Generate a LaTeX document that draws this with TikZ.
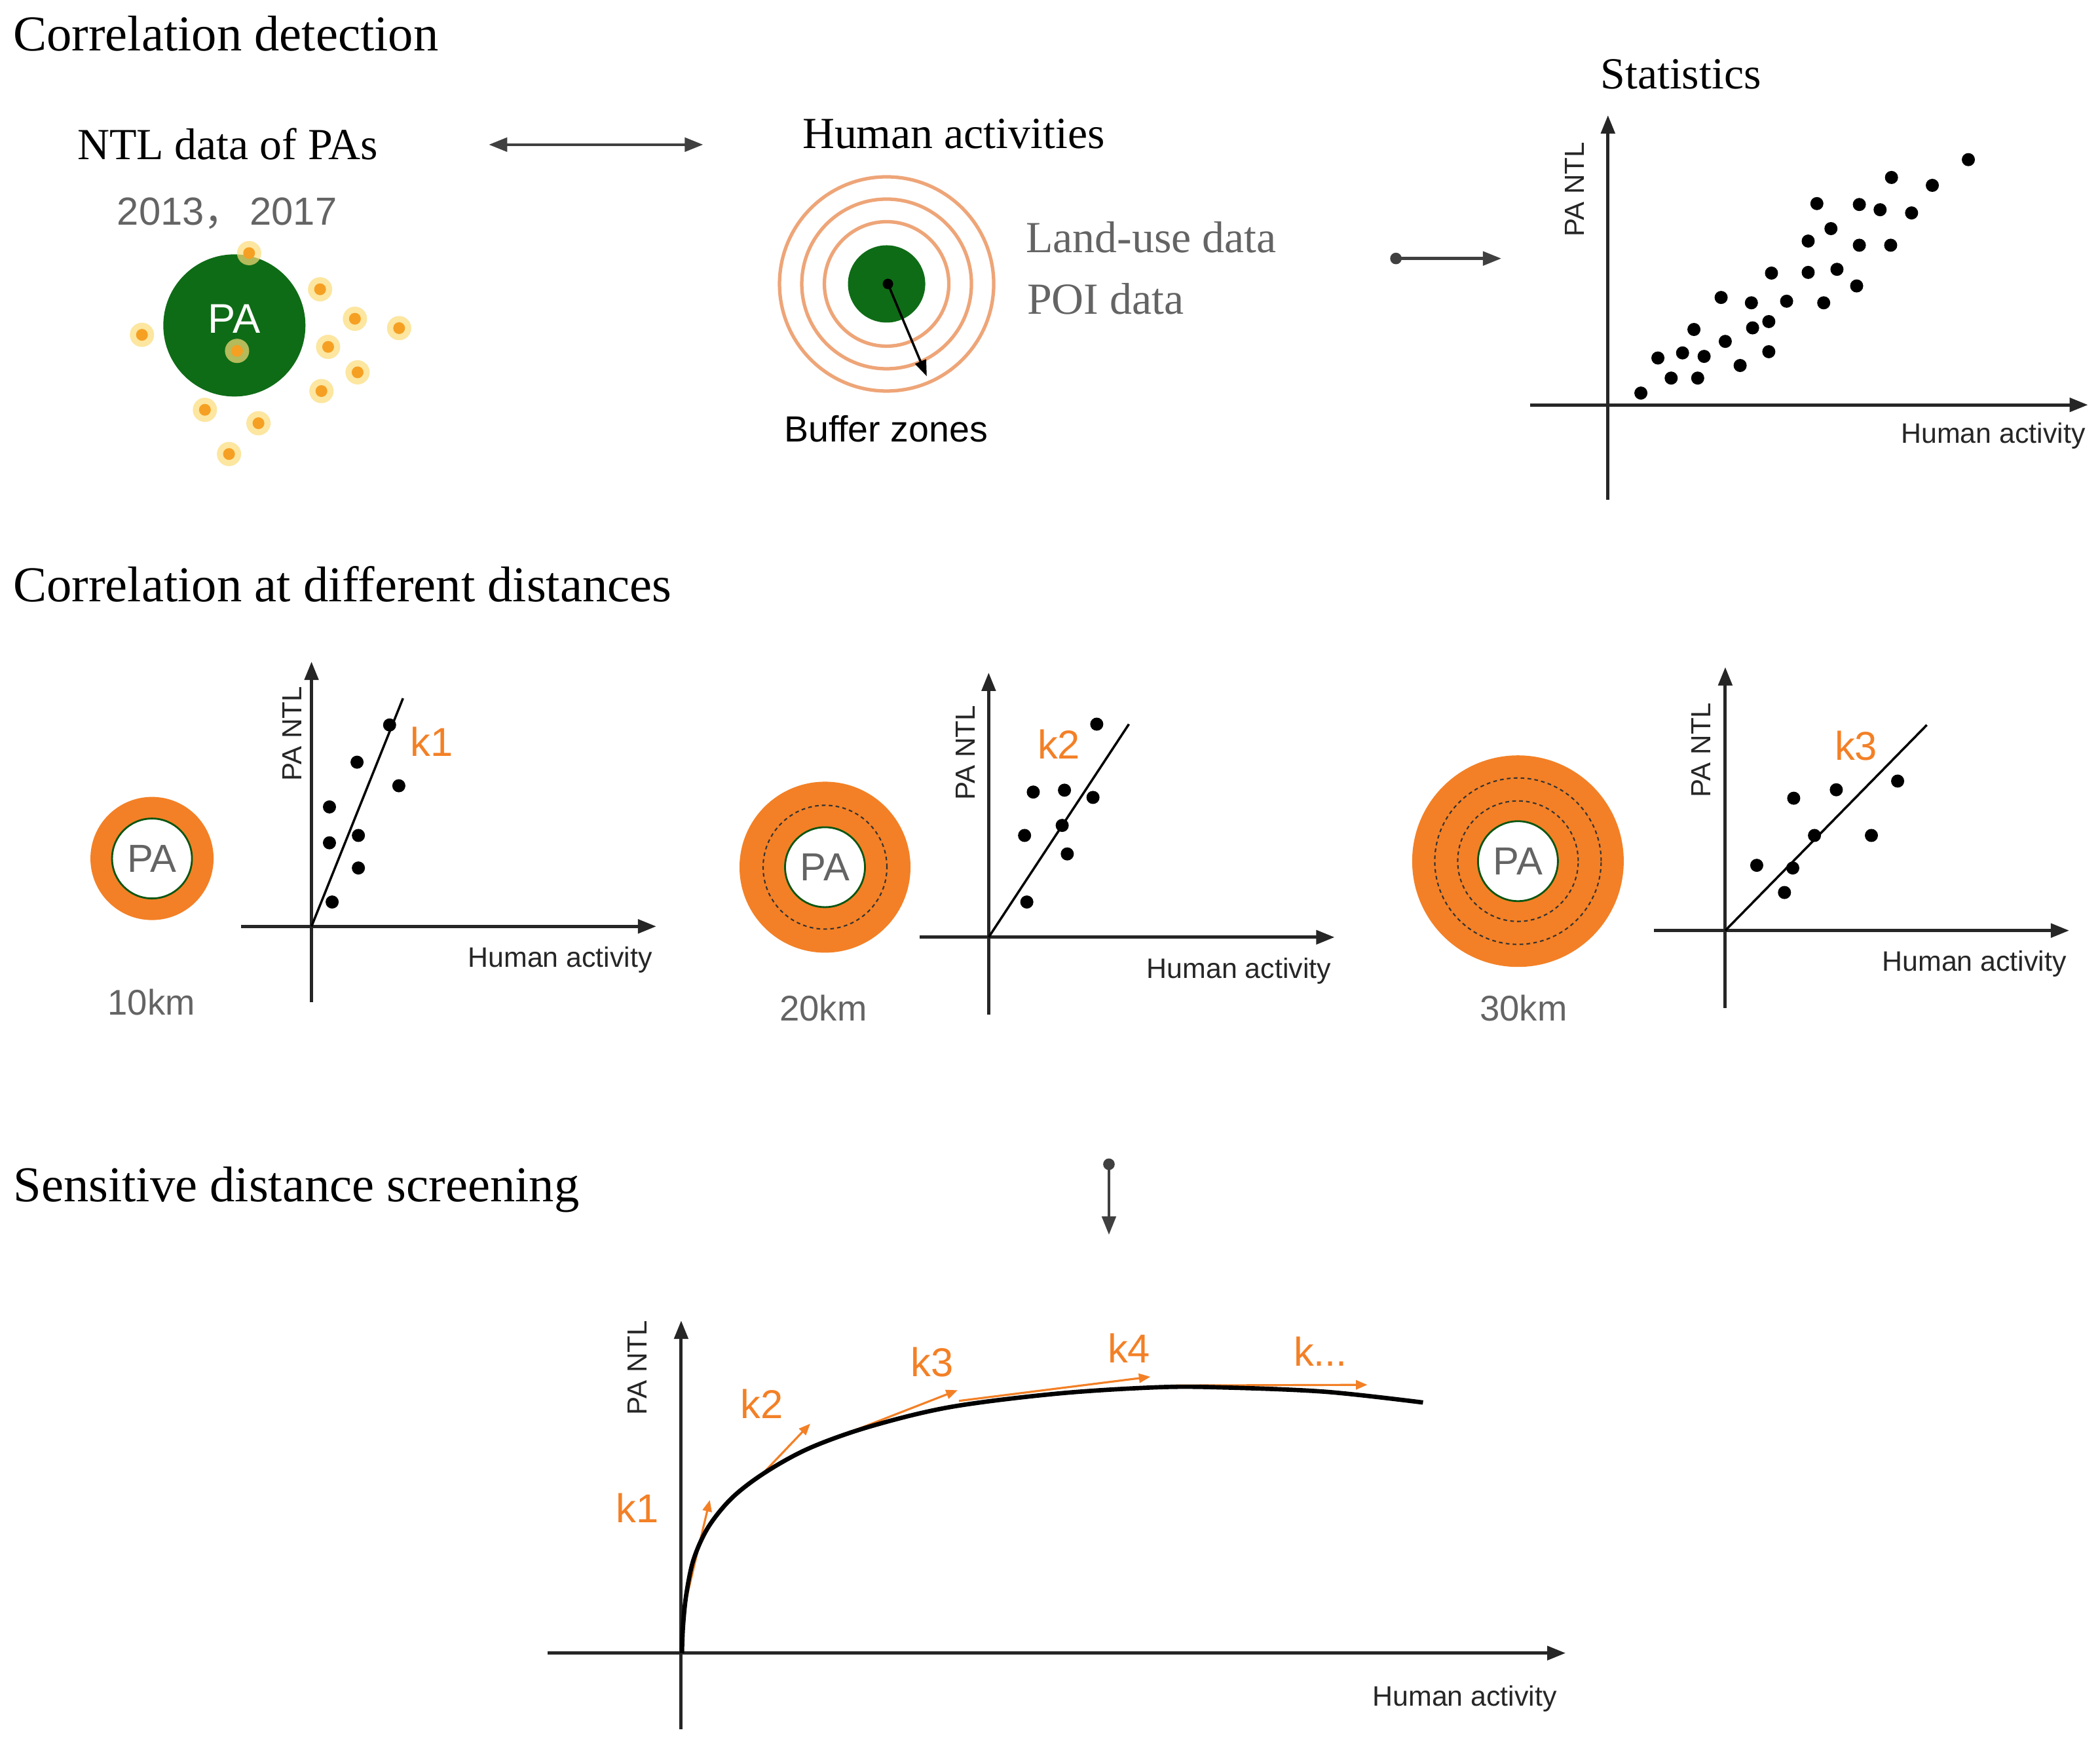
\documentclass[tikz,border=0pt]{standalone}
\usepackage{fontspec}
\setmainfont{Liberation Serif}
\setsansfont{Liberation Sans}
\newfontfamily\cjkfont{Noto Sans CJK SC}
\usetikzlibrary{arrows.meta}
\definecolor{pagreen}{RGB}{14,108,22}
\definecolor{paorange}{RGB}{243,128,38}
\definecolor{ringline}{RGB}{238,165,120}
\definecolor{txtgrey}{RGB}{100,100,100}
\definecolor{dotcore}{RGB}{245,160,35}
\definecolor{dothalo}{RGB}{252,220,120}
\tikzset{
  every node/.style={inner sep=0pt, outer sep=0pt},
  heading/.style={font=\fontsize{21.8}{24}\selectfont, anchor=base west},
  subhead/.style={font=\fontsize{19.3}{22}\selectfont, anchor=base},
  greyserif/.style={font=\fontsize{19.3}{22}\selectfont, anchor=base west, text=txtgrey},
  axislabel/.style={font=\sffamily\fontsize{12.2}{14}\selectfont, text=black!85, anchor=base east},
  ylabel/.style={font=\sffamily\fontsize{12}{14}\selectfont, text=black!85, rotate=90},
  kmlabel/.style={font=\sffamily\fontsize{15.5}{18}\selectfont, text=txtgrey},
  klabel/.style={font=\sffamily\fontsize{17.5}{20}\selectfont, text=paorange},
  pagrey/.style={font=\sffamily\fontsize{17}{20}\selectfont, text=txtgrey},
  axisarrow/.style={line width=1.4pt, draw=black!85, -{Triangle[length=8pt,width=6pt]}},
  fitline/.style={line width=1pt, draw=black},
  sdot/.style={circle, fill=black, minimum size=2mm},
  ringdash/.style={draw=black!80, line width=0.6pt, dash pattern=on 1.6pt off 1.4pt},
  tangent/.style={draw=paorange, line width=0.9pt, -{Triangle[length=5pt,width=4pt]}},
  flowarrow/.style={line width=1.3pt, draw=black!75},
}
\begin{document}
\begin{tikzpicture}[x=0.020446cm, y=-0.020446cm]
\useasboundingbox[fill=white] (0,0) rectangle (1568,1301);

% ---------------- headings
\node[heading] (h1) at (10,38) {Correlation detection};
\node[heading] (h2) at (10,449) {Correlation at different distances};
\node[heading] (h3) at (10,897) {Sensitive distance screening};

% ---------------- NTL data of PAs
\node[subhead] (ntl) at (170,119.2) {NTL data of PAs};
\node[font=\sffamily\fontsize{17}{20}\selectfont, text=txtgrey, anchor=base] (years) at (169.5,167.9) {2013{\cjkfont ，}\,2017};
\node[circle, fill=pagreen, minimum size=2.17cm] (pa0) at (175,243) {};
\node[font=\sffamily\fontsize{18}{20}\selectfont, text=white] (pa0t) at (175,238) {PA};
\foreach \x/\y [count=\i] in {186/189, 239/216, 265/238, 298/245, 106/250, 177/262, 245/259, 267/278, 240/292, 153/306, 193/316, 171/339}{
  \node[circle, fill=dothalo, opacity=0.7, minimum size=0.37cm] (halo\i) at (\x,\y) {};
  \node[circle, fill=dotcore, minimum size=0.18cm] (light\i) at (\x,\y) {};
}

% double arrow
\coordinate (da1) at (365,108);
\coordinate (da2) at (525,108);
\draw[flowarrow, {Triangle[length=8pt,width=6pt]}-{Triangle[length=8pt,width=6pt]}] (da1) -- (da2);

% ---------------- Human activities
\node[subhead] (hum) at (712,110.8) {Human activities};
\node[circle, draw=ringline, line width=1.5pt, minimum size=3.27cm] (r3) at (662,212) {};
\node[circle, draw=ringline, line width=1.5pt, minimum size=2.59cm] (r2) at (662,212) {};
\node[circle, draw=ringline, line width=1.5pt, minimum size=1.9cm] (r1) at (662,212) {};
\node[circle, fill=pagreen, minimum size=1.18cm] (pa1) at (662,212) {};
\node[circle, fill=black, minimum size=1.6mm] (pac) at (663,212) {};
\coordinate (bz) at (692,281);
\draw[line width=1pt, -{Triangle[length=7pt,width=5pt]}] (pac.center) -- (bz);
\node[greyserif] (land) at (766,188.5) {Land-use data};
\node[greyserif] (poi) at (767,234.3) {POI data};
\node[font=\sffamily\fontsize{15.8}{18}\selectfont, anchor=base] (buf) at (661.5,329.8) {Buffer zones};

% arrow to statistics
\coordinate (ar1) at (1038,193);
\coordinate (ar2) at (1121,193);
\draw[flowarrow, {Circle[length=5pt]}-{Triangle[length=8pt,width=6pt]}] (ar1) -- (ar2);

% ---------------- Statistics
\node[subhead] (stat) at (1255,66.5) {Statistics};
\coordinate (sy0) at (1200.6,373);
\coordinate (sy1) at (1200.6,86);
\coordinate (sx0) at (1142.4,302.3);
\coordinate (sx1) at (1559,302.3);
\draw[axisarrow] (sy0) -- (sy1);
\draw[axisarrow] (sx0) -- (sx1);
\node[ylabel] (sylab) at (1175.8,141.4) {PA NTL};
\node[axislabel] (sxlab) at (1557,330.9) {Human activity};
\foreach \x/\y [count=\i] in {1469.7/119.2, 1412.3/132.5, 1442.8/138.4, 1356.6/152.0, 1388.3/152.7, 1403.8/156.6, 1427.3/159.0, 1367.1/170.7, 1350.1/180.0, 1388.3/183.1, 1411.7/183.1, 1322.7/203.9, 1350.1/203.4, 1371.6/201.1, 1386.3/213.5, 1285.1/222.1, 1307.7/226.1, 1334.0/224.9, 1361.7/226.1, 1320.7/240.1, 1264.8/246.0, 1308.6/244.8, 1288.2/254.9, 1237.9/267.3, 1256.3/263.5, 1272.4/266.1, 1320.7/262.6, 1299.3/272.9, 1247.8/282.3, 1267.6/282.3, 1225.2/293.5}{
  \node[sdot] (st\i) at (\x,\y) {};
}

% ---------------- Panel 1 (10 km)
\node[circle, fill=paorange, minimum size=1.88cm] (o1) at (113.5,641) {};
\node[circle, fill=white, draw=pagreen!80!black, line width=0.8pt, minimum size=1.22cm] (w1) at (113.5,641) {};
\node[pagrey] (p1) at (113.5,641) {PA};
\node[kmlabel] (km1) at (113,748.5) {10km};
\coordinate (o1a) at (232.6,691.7);
\coordinate (p1y0) at (232.6,748.5);
\coordinate (p1y1) at (232.6,494);
\coordinate (p1x0) at (180,691.7);
\coordinate (p1x1) at (490,691.7);
\draw[axisarrow] (p1y0) -- (p1y1);
\draw[axisarrow] (p1x0) -- (p1x1);
\coordinate (f1) at (300.9,521.4);
\draw[fitline] (o1a) -- (f1);
\node[ylabel] (p1yl) at (217.9,547.8) {PA NTL};
\node[axislabel] (p1xl) at (487,722.1) {Human activity};
\node[klabel] (k1a) at (322.5,553.8) {k1};
\foreach \x/\y [count=\i] in {290.9/541.3, 266.6/569.1, 297.8/586.7, 246/602.5, 246/629.3, 267.6/623.8, 267.6/648.1, 248/673.5}{
  \node[sdot] (pa\i) at (\x,\y) {};
}

% ---------------- Panel 2 (20 km)
\node[circle, fill=paorange, minimum size=2.61cm] (o2) at (616,647.5) {};
\node[circle, ringdash, minimum size=1.89cm] (d2a) at (616,647.5) {};
\node[circle, fill=white, draw=pagreen!80!black, line width=0.8pt, minimum size=1.22cm] (w2) at (616,647.5) {};
\node[pagrey] (p2) at (616,647.5) {PA};
\node[kmlabel] (km2) at (614.7,752.5) {20km};
\coordinate (o2a) at (738.2,699.8);
\coordinate (p2y0) at (738.2,757.6);
\coordinate (p2y1) at (738.2,502.2);
\coordinate (p2x0) at (686.8,699.8);
\coordinate (p2x1) at (996.5,699.8);
\draw[axisarrow] (p2y0) -- (p2y1);
\draw[axisarrow] (p2x0) -- (p2x1);
\coordinate (f2) at (842.9,540.7);
\draw[fitline] (o2a) -- (f2);
\node[ylabel] (p2yl) at (721.1,562) {PA NTL};
\node[axislabel] (p2xl) at (993.8,730.2) {Human activity};
\node[klabel] (k2a) at (790.7,555.9) {k2};
\foreach \x/\y [count=\i] in {818.9/540.7, 771.5/591.4, 794.8/590, 816.1/595.4, 793.1/616.3, 765/623.8, 796.9/637.6, 766.7/673.5}{
  \node[sdot] (pb\i) at (\x,\y) {};
}

% ---------------- Panel 3 (30 km)
\node[circle, fill=paorange, minimum size=3.23cm] (o3) at (1133.4,643) {};
\node[circle, ringdash, minimum size=2.54cm] (d3b) at (1133.4,643) {};
\node[circle, ringdash, minimum size=1.84cm] (d3a) at (1133.4,643) {};
\node[circle, fill=white, draw=pagreen!80!black, line width=0.8pt, minimum size=1.22cm] (w3) at (1133.4,643) {};
\node[pagrey] (p3) at (1133.4,643) {PA};
\node[kmlabel] (km3) at (1137.5,752.5) {30km};
\coordinate (o3a) at (1288.2,694.8);
\coordinate (p3y0) at (1288.2,752.5);
\coordinate (p3y1) at (1288.2,498.1);
\coordinate (p3x0) at (1235.1,694.8);
\coordinate (p3x1) at (1545,694.8);
\draw[axisarrow] (p3y0) -- (p3y1);
\draw[axisarrow] (p3x0) -- (p3x1);
\coordinate (f3) at (1438.7,541.3);
\draw[fitline] (o3a) -- (f3);
\node[ylabel] (p3yl) at (1270.3,559.9) {PA NTL};
\node[axislabel] (p3xl) at (1542.9,725.2) {Human activity};
\node[klabel] (k3a) at (1385.9,556.9) {k3};
\foreach \x/\y [count=\i] in {1339.3/596, 1371.1/589.7, 1416.9/583.2, 1354.8/623.8, 1397.3/623.8, 1311.7/646.1, 1338.6/648.1, 1332.4/666.4}{
  \node[sdot] (pc\i) at (\x,\y) {};
}

% vertical arrow
\coordinate (va1) at (828,865);
\coordinate (va2) at (828,922);
\draw[flowarrow, {Circle[length=5pt]}-{Triangle[length=8pt,width=6pt]}] (va1) -- (va2);

% ---------------- Bottom plot
\coordinate (by0) at (508.6,1291);
\coordinate (by1) at (508.6,986);
\coordinate (bx0) at (408.8,1234.3);
\coordinate (bx1) at (1169,1234.3);
\draw[axisarrow] (by0) -- (by1);
\draw[axisarrow] (bx0) -- (bx1);
\node[ylabel] (bylab) at (476.1,1021.4) {PA NTL};
\node[axislabel] (bxlab) at (1162.4,1273.6) {Human activity};
\coordinate (t1a) at (511,1200); \coordinate (t1b) at (530,1120);
\coordinate (t2a) at (566,1104); \coordinate (t2b) at (605,1063);
\coordinate (t3a) at (615,1077); \coordinate (t3b) at (715,1038);
\coordinate (t4a) at (716,1046); \coordinate (t4b) at (859,1028);
\coordinate (t5a) at (878,1034.5); \coordinate (t5b) at (1021,1034);
\draw[tangent] (t1a) -- (t1b);
\draw[tangent] (t2a) -- (t2b);
\draw[tangent] (t3a) -- (t3b);
\draw[tangent] (t4a) -- (t4b);
\draw[tangent] (t5a) -- (t5b);
\draw[line width=1.9pt, black] plot[smooth, tension=0.55] coordinates {(509.2,1234.3) (510,1214) (512.5,1190) (518,1164) (529,1140) (547,1118) (572,1099) (605,1081) (650,1065) (710,1050.5) (790,1040.5) (865,1035.8) (915,1036) (990,1039.2) (1062.5,1047.2)};
\node[klabel] (bk1) at (476.1,1126) {k1};
\node[klabel] (bk2) at (569,1048) {k2};
\node[klabel] (bk3) at (696,1017) {k3};
\node[klabel] (bk4) at (843,1006.5) {k4};
\node[klabel] (bk5) at (986,1009) {k...};
\end{tikzpicture}
\end{document}
